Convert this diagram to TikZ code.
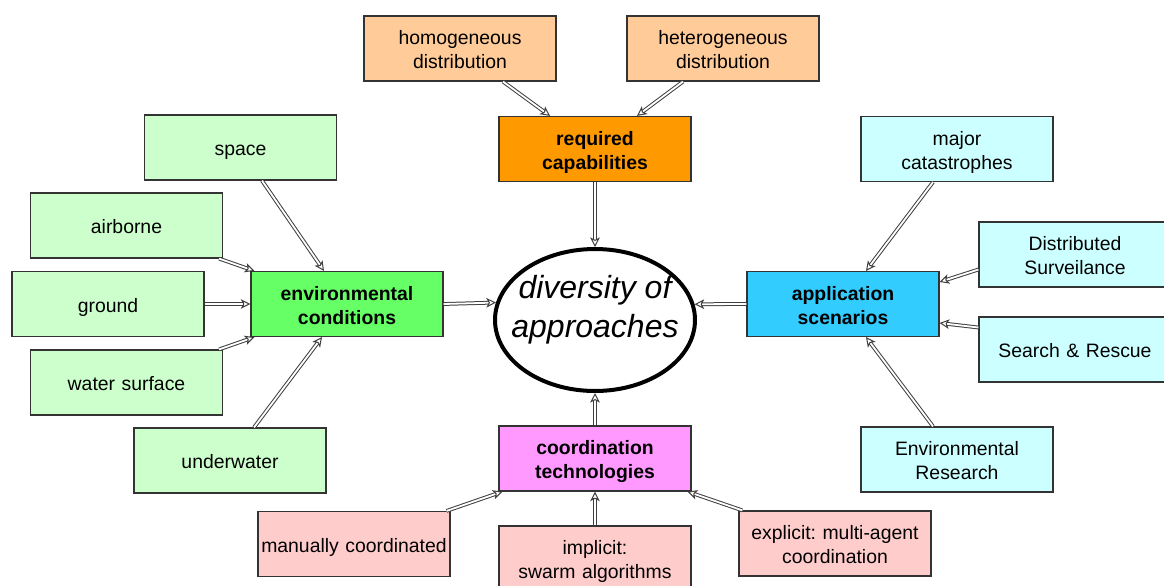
\documentclass[tikz,border=0pt]{standalone}
\usepackage{fontspec}
\setmainfont{Liberation Sans}
\usetikzlibrary{arrows.meta,shapes.geometric,calc}
\definecolor{peach}{HTML}{FFCC99}
\definecolor{orangehub}{HTML}{FF9900}
\definecolor{palegreen}{HTML}{CCFFCC}
\definecolor{greenhub}{HTML}{66FF66}
\definecolor{bluehub}{HTML}{33CCFF}
\definecolor{palecyan}{HTML}{CCFFFF}
\definecolor{magentahub}{HTML}{FF99FF}
\definecolor{palepink}{HTML}{FFCCCC}
\frenchspacing
\begin{document}
\begin{tikzpicture}[x=0.5pt,y=-0.5pt,
  box/.style={draw=black!80, line width=0.6pt, minimum width=96pt, minimum height=32.5pt,
    inner sep=0pt, text width=95pt, align=center, font=\fontsize{9.7}{12}\selectfont,
    execute at begin node={\rule{0pt}{10.1pt}},
    execute at end node={\rule[-2.1pt]{0pt}{2.1pt}}},
  hub/.style={box, font=\fontsize{9.7}{12}\selectfont\bfseries},
  link/.style={draw=black!75, double=white, double distance=0.9pt, line width=0.5pt,
    -{Stealth[open, length=4.8pt, width=4.8pt, inset=1.2pt]}}]
\clip (0,0) rectangle (1164,585);
\fill[white] (0,0) rectangle (1164,585);

% centre
\node[ellipse, draw, line width=2pt, minimum width=100pt, minimum height=71pt, inner sep=0pt] (core) at (595,320) {};
\node[align=center, inner sep=0pt, font=\fontsize{16}{19.5}\selectfont\itshape] (coretext) at (595,310) {diversity of\\approaches};

% hubs
\node[hub, fill=orangehub] (req) at (595,149) {required\\capabilities};
\node[hub, fill=greenhub] (env) at (347,304) {environmental\\conditions};
\node[hub, fill=bluehub] (app) at (843,304) {application\\scenarios};
\node[hub, fill=magentahub] (coord) at (595,458.5) {coordination\\technologies};

% required capabilities
\node[box, fill=peach] (homog) at (460,48.5) {homogeneous\\distribution};
\node[box, fill=peach] (hetero) at (723,48.5) {heterogeneous\\distribution};

% environmental conditions
\node[box, fill=palegreen] (space) at (240.5,147.5) {space};
\node[box, fill=palegreen] (air) at (126.5,225.5) {airborne};
\node[box, fill=palegreen] (ground) at (108,304) {ground};
\node[box, fill=palegreen] (water) at (126.5,382.5) {water surface};
\node[box, fill=palegreen] (under) at (230,460.5) {underwater};

% application scenarios
\node[box, fill=palecyan] (major) at (957,149) {major\\catastrophes};
\node[box, fill=palecyan] (distrib) at (1075,254.5) {Distributed\\Surveilance};
\node[box, fill=palecyan] (search) at (1075,349.5) {Search \& Rescue};
\node[box, fill=palecyan] (envres) at (957,459.5) {Environmental\\Research};

% coordination technologies
\node[box, fill=palepink] (manual) at (354,544) {manually coordinated};
\node[box, fill=palepink] (implicit) at (595,558.5) {implicit:\\swarm algorithms};
\node[box, fill=palepink] (explicit) at (835,543.5) {explicit: multi-agent\\coordination};

% connectors
\draw[link] ($(homog.south)+(43,0)$) -- ($(req.north)+(-45,0)$);
\draw[link] ($(hetero.south)+(-40,0)$) -- ($(req.north)+(42,0)$);
\draw[link] (req.south) -- (core.north);

\draw[link] ($(space.south)+(21.5,0)$) -- ($(env.north)+(-23,0)$);
\draw[link] ($(air.south east)+(-4,0)$) -- ($(env.north west)+(4,0)$);
\draw[link] (ground.east) -- (env.west);
\draw[link] ($(water.north east)+(-4,0)$) -- ($(env.south west)+(4,0)$);
\draw[link] ($(under.north)+(24,0)$) -- ($(env.south)+(-25,0)$);
\draw[link] (env.east) -- (core.170.9);

\draw[link] (app.west) -- (core.9.1);
\draw[link] ($(major.south)+(-24,0)$) -- ($(app.north)+(23,0)$);
\draw[link] ($(distrib.west)+(0,15)$) -- ($(app.east)+(0,-22)$);
\draw[link] ($(search.west)+(0,-22)$) -- ($(app.east)+(0,19)$);
\draw[link] ($(envres.north)+(-24,0)$) -- ($(app.south)+(23,0)$);

\draw[link] (coord.north) -- (core.south);
\draw[link] ($(manual.north east)+(-4,0)$) -- ($(coord.south west)+(4,0)$);
\draw[link] (implicit.north) -- (coord.south);
\draw[link] ($(explicit.north west)+(4,0)$) -- ($(coord.south east)+(-4,0)$);
\end{tikzpicture}
\end{document}
